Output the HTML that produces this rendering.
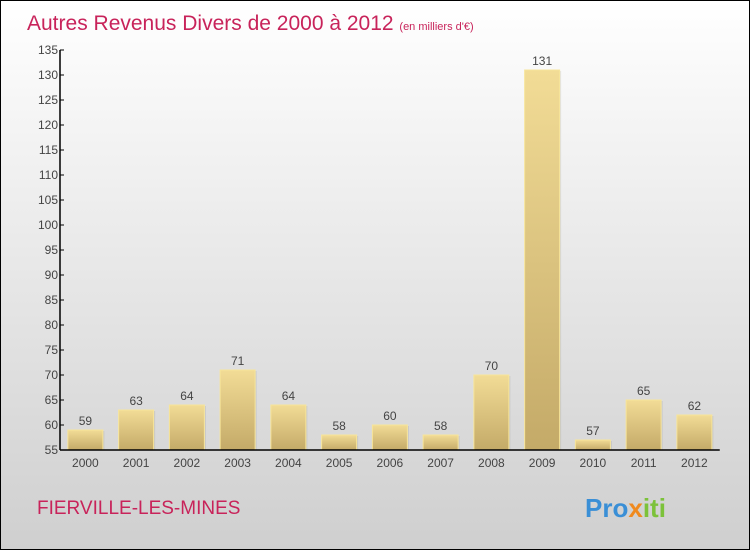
<!DOCTYPE html>
<html><head><meta charset="utf-8"><style>
html,body{margin:0;padding:0}
body{width:750px;height:550px;overflow:hidden;font-family:"Liberation Sans",sans-serif}
#wrap{position:relative;width:748px;height:548px;border:1px solid #000;background:linear-gradient(#ffffff,#cfcfcf)}
</style></head><body>
<div id="wrap">
<svg id="chart" width="748" height="548">
<defs>
<linearGradient id="bg" x1="0" y1="0" x2="0" y2="1"><stop offset="0" stop-color="#f2dc96"/><stop offset="1" stop-color="#c4aa68"/></linearGradient>
</defs>
<text x="26" y="29" font-size="21" fill="#c8235a">Autres Revenus Divers de 2000 à 2012 <tspan font-size="11">(en milliers d'€)</tspan></text>
<text x="36" y="513" font-size="19" fill="#c8235a">FIERVILLE-LES-MINES</text>
<text x="584" y="516" font-size="26" font-weight="bold"><tspan fill="#3a8fd6">Pro</tspan><tspan fill="#f08a1e">x</tspan><tspan fill="#7cc23a">iti</tspan></text>
<g id="plot"></g>
</svg>
</div>
<script>
const years=["2000","2001","2002","2003","2004","2005","2006","2007","2008","2009","2010","2011","2012"];
const values=[59,63,64,71,64,58,60,58,70,131,57,65,62];
const yTicks=[55,60,65,70,75,80,85,90,95,100,105,110,115,120,125,130,135];
const ns="http://www.w3.org/2000/svg";
const g=document.getElementById('plot');
const X0=59,step=50.75,Y0=449,yMin=55,yMax=135,H=400;
const y=v=>Y0-(v-yMin)/(yMax-yMin)*H;
const xc=i=>X0+step*(i+0.5);
function mk(t,a){const e=document.createElementNS(ns,t);for(const k in a)e.setAttribute(k,a[k]);g.appendChild(e);return e;}
values.forEach((v,i)=>{
 const sh=mk('rect',{x:xc(i)-16,y:y(v)+1,width:35,height:Y0-y(v)-1,fill:'#000',opacity:0.08});
 
 
 const r=mk('rect',{x:xc(i)-17.5,y:y(v),width:35,height:Y0-y(v),fill:'url(#bg)',stroke:'#f7e59a','stroke-width':1});
 
 
 const t=mk('text',{x:xc(i),y:y(v)-5,'text-anchor':'middle','font-size':12,fill:'#444'});
 t.textContent=v;
 
 
 const xl=mk('text',{x:xc(i),y:Y0+17,'text-anchor':'middle','font-size':12,fill:'#444'});
 xl.textContent=years[i];
 
 
});
yTicks.forEach(v=>{
 const l=mk('line',{x1:X0,x2:X0+4,y1:y(v),y2:y(v),stroke:'#000'});
 
 
 const t=mk('text',{x:X0-2,y:y(v)+4,'text-anchor':'end','font-size':12,fill:'#444'});
 t.textContent=v;
 
 
});
const ya=mk('line',{x1:X0,x2:X0,y1:y(135),y2:Y0,stroke:'#000','stroke-width':1.5});


const xa=mk('line',{x1:X0,x2:X0+step*13,y1:Y0,y2:Y0,stroke:'#000','stroke-width':1.5});


</script>
</body></html>
